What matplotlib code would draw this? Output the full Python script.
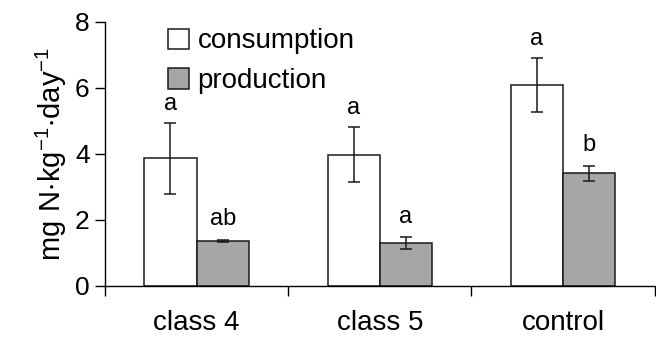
import numpy as np
import matplotlib
matplotlib.use('Agg')
import matplotlib.pyplot as plt

plt.rcParams['font.family'] = ['Liberation Sans', 'DejaVu Sans']
plt.rcParams['mathtext.fontset'] = 'custom'
plt.rcParams['mathtext.rm'] = 'Liberation Sans'

# values
groups = ['class 4', 'class 5', 'control']
consumption = [3.87, 3.97, 6.08]
consumption_err = [1.07, 0.83, 0.82]
production = [1.35, 1.30, 3.41]
production_err = [0.03, 0.17, 0.23]
cons_letters = ['a', 'a', 'a']
prod_letters = ['ab', 'a', 'b']

x = np.arange(len(groups))
w = 0.285

fig = plt.figure(figsize=(6.56, 3.47), dpi=100)
ax = fig.add_axes([0.160, 0.176, 0.838, 0.761])

err_kw = dict(ecolor='#1a1a1a', elinewidth=1.1, capsize=4, capthick=1.1)
ax.bar(x - w / 2, consumption, w, yerr=consumption_err, color='white',
       edgecolor='#1a1a1a', linewidth=1.1, error_kw=err_kw, label='consumption')
ax.bar(x + w / 2, production, w, yerr=production_err, color='#a6a6a6',
       edgecolor='#1a1a1a', linewidth=1.1, error_kw=err_kw, label='production')

for i in range(len(groups)):
    ax.text(x[i] - w / 2, consumption[i] + consumption_err[i] + 0.25, cons_letters[i],
            ha='center', va='bottom', fontsize=17)
    ax.text(x[i] + w / 2, production[i] + production_err[i] + 0.3, prod_letters[i],
            ha='center', va='bottom', fontsize=17)

ax.set_xlim(-0.5, len(groups) - 0.5)
ax.set_ylim(0, 8)
ax.set_yticks([0, 2, 4, 6, 8])
ax.tick_params(axis='y', labelsize=19, length=7, width=1, pad=4)
ax.set_xticks(x)
ax.set_xticklabels(groups)
ax.set_xticks(np.arange(len(groups) + 1) - 0.5, minor=True)
ax.tick_params(axis='x', which='major', length=0, labelsize=20, pad=17)
ax.tick_params(axis='x', which='minor', length=7, width=1)

for s in ['top', 'right']:
    ax.spines[s].set_visible(False)
ax.spines['left'].set_linewidth(1)
ax.spines['bottom'].set_linewidth(1)

ax.set_ylabel(r'$\mathregular{mg\ N{\cdot}kg^{-1}{\cdot}day^{-1}}$', fontsize=21, labelpad=4)

ax.legend(loc='upper left', bbox_to_anchor=(0.07, 1.07), frameon=False, fontsize=20,
          handlelength=0.75, handleheight=0.75, handletextpad=0.3, labelspacing=0.5)

fig.savefig('out.png', dpi=100)
